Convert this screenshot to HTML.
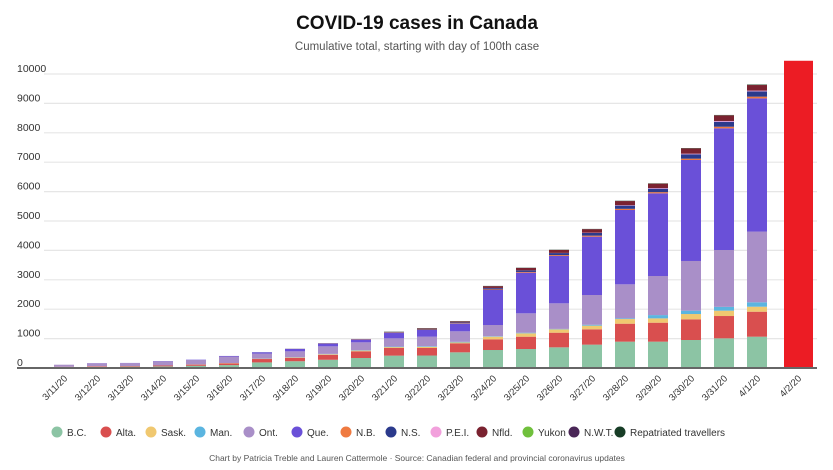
<!DOCTYPE html>
<html><head><meta charset="utf-8"><style>
body{margin:0;background:#fff;font-family:"Liberation Sans",sans-serif}
svg{display:block}
</style></head><body>
<svg id="c" width="833" height="470" xmlns="http://www.w3.org/2000/svg">
<text x="417" y="29" text-anchor="middle" font-size="19" font-weight="bold" fill="#111">COVID-19 cases in Canada</text>
<text x="417" y="50" text-anchor="middle" font-size="11.5" fill="#555">Cumulative total, starting with day of 100th case</text>
<g id="grid"></g><g id="bars"></g><g id="xl"></g><g id="legend"></g>
<text x="417" y="461" text-anchor="middle" font-size="8.5" fill="#555">Chart by Patricia Treble and Lauren Cattermole · Source: Canadian federal and provincial coronavirus updates</text>
</svg>
<script>
const dates=["3/11/20","3/12/20","3/13/20","3/14/20","3/15/20","3/16/20","3/17/20","3/18/20","3/19/20","3/20/20","3/21/20","3/22/20","3/23/20","3/24/20","3/25/20","3/26/20","3/27/20","3/28/20","3/29/20","3/30/20","3/31/20","4/1/20"];
const provinces=["B.C.","Alta.","Sask.","Man.","Ont.","Que.","N.B.","N.S.","P.E.I.","Nfld.","Yukon","N.W.T.","Repatriated travellers"];
const colors=["#8cc4a4","#d94f4f","#f0c870","#5bb5e0","#a98fc8","#6a50d8","#ef7a40","#2b3a8c","#f2a0dc","#7a2230","#70c03c","#4a2757","#173d26"];
const bc=[30,40,45,55,75,100,190,230,280,340,420,424,533,612,646,703,794,896,896,952,1009,1065];
const alta=[10,20,20,30,40,60,115,110,170,227,260,256,307,363,419,498,521,611,645,703,759,850];
const sask=[2,2,2,2,5,8,10,15,20,25,30,40,30,90,115,114,125,158,147,181,182,170];
const man=[0,0,0,0,0,2,5,7,10,15,17,20,20,15,20,15,30,25,112,114,130,150];
const ont=[70,100,100,140,155,220,170,205,257,266,282,326,358,382,660,870,1013,1156,1329,1690,1933,2405];
const que=[0,5,5,10,10,20,42,79,91,91,181,227,259,1191,1382,1610,1984,2528,2812,3435,4139,4530];
const nb=[0,0,0,0,0,0,0,0,2,5,10,15,15,20,25,30,35,40,40,45,55,60];
const ns=[0,0,0,0,0,0,5,5,10,10,15,20,25,45,50,70,90,110,120,150,170,180];
const pei=[0,0,0,0,0,0,0,0,2,2,3,3,5,5,5,5,10,15,20,20,25,25];
const nfld=[0,0,0,0,0,0,0,3,5,6,10,20,30,60,80,100,120,140,150,180,190,190];
const yukon=[0,0,0,0,0,0,0,0,0,0,0,0,0,0,0,0,0,1,2,3,4,5];
const nwt=[0,0,0,0,0,0,0,0,0,0,0,1,1,1,1,1,1,1,1,1,2,3];
const repat=[0,0,0,0,0,0,0,0,0,0,8,8,8,8,8,8,8,8,8,9,9,13];
const series=[bc,alta,sask,man,ont,que,nb,ns,pei,nfld,yukon,nwt,repat];
const yTicks=[0,1000,2000,3000,4000,5000,6000,7000,8000,9000,10000];
const projDate="4/2/20";
const projValue=10450;
const NS="http://www.w3.org/2000/svg";
function mk(t,a,p){const e=document.createElementNS(NS,t);for(const k in a)e.setAttribute(k,a[k]);p.appendChild(e);return e;}
const y0=368,pxPer=29.4/1000;
function Y(v){return y0-v*pxPer;}
function X(i){return 64+i*33;}
const grid=document.getElementById('grid');
yTicks.forEach(t=>{
  if(t>0){const l=mk('line',{x1:44,x2:817,y1:Y(t),y2:Y(t),stroke:'#e6e6e6','stroke-width':1.2},grid);
  
  }
  const tx=mk('text',{x:17,y:Y(t)-2,'font-size':10.5,fill:'#333'},grid);tx.textContent=t;
  
  
});
const bars=document.getElementById('bars');
dates.forEach((d,i)=>{
  let acc=0;
  series.forEach((s,k)=>{
    const v=s[i];if(v<=0)return;
    const r=mk('rect',{x:X(i)-10,width:20,y:Y(acc+v),height:v*pxPer,fill:colors[k]},bars);
    
    
    acc+=v;
  });
});
const pr=mk('rect',{x:784,width:29,y:Y(projValue),height:projValue*pxPer,fill:'#ec1c24'},bars);


const ax=mk('line',{x1:17,x2:817,y1:y0,y2:y0,stroke:'#666','stroke-width':2},bars);


const xl=document.getElementById('xl');
dates.concat([projDate]).forEach((d,i)=>{
  const cx=i<dates.length?X(i)+4:802;
  const t=mk('text',{x:cx,y:379,'font-size':9.5,fill:'#333','text-anchor':'end',transform:`rotate(-45 ${cx} 379)`},xl);
  t.textContent=d;
  
  
});
const lg=document.getElementById('legend');
const lx=[57,106,151,200,249,297,346,391,436,482,528,574,620];
provinces.forEach((p,k)=>{
  const g=mk('g',{},lg);
  
  
  mk('circle',{cx:lx[k],cy:432,r:5.5,fill:colors[k]},g);
  const t=mk('text',{x:lx[k]+10,y:436,'font-size':10,fill:'#333'},g);t.textContent=p;
});
</script>
</body></html>
